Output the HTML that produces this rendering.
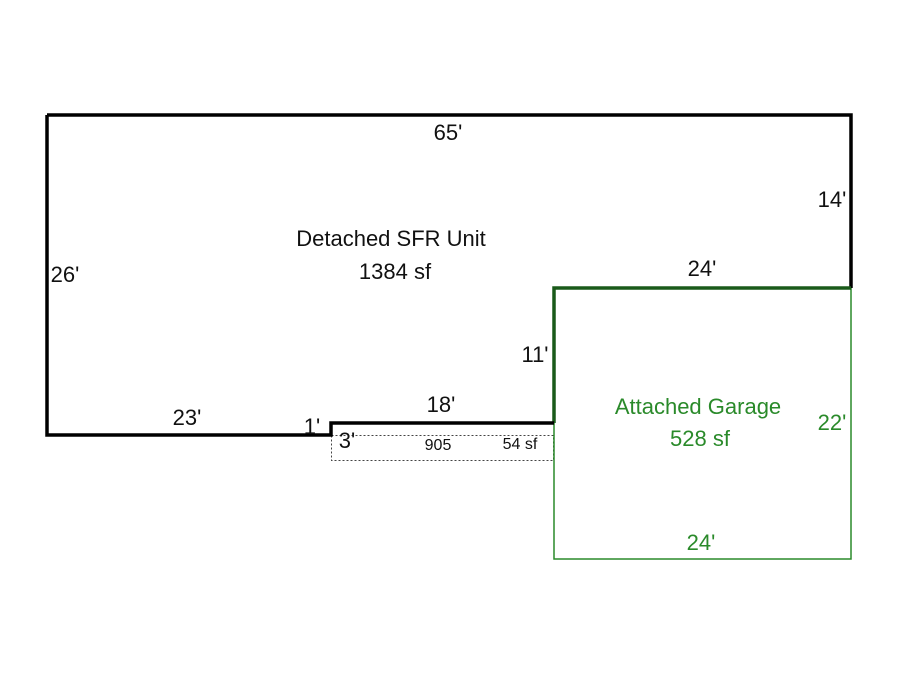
<!DOCTYPE html>
<html><head><style>html,body{margin:0;padding:0;background:#fff;}svg{display:block}text{font-family:"Liberation Sans",sans-serif}</style></head>
<body>
<svg width="900" height="675" viewBox="0 0 900 675" xmlns="http://www.w3.org/2000/svg" font-family="'Liberation Sans', sans-serif">
<rect width="900" height="675" fill="#fff"/>
<rect x="331.5" y="435.5" width="222" height="25" fill="none" stroke="#444" stroke-width="1" stroke-dasharray="2,2"/>
<rect x="554" y="288" width="297" height="271" fill="none" stroke="#2a8a2a" stroke-width="1.5"/>
<polyline points="47,115 851,115 851,288" fill="none" stroke="#000" stroke-width="3.5"/>
<polyline points="851,288 554,288 554,423" fill="none" stroke="#1a5a1a" stroke-width="3.5"/>
<polyline points="554,423 331,423 331,435 47,435 47,115" fill="none" stroke="#000" stroke-width="3.5"/>
<g font-size="22" fill="#111">
<text x="448" y="140" text-anchor="middle">65'</text>
<text x="832" y="207" text-anchor="middle">14'</text>
<text x="702" y="276" text-anchor="middle">24'</text>
<text x="65" y="282" text-anchor="middle">26'</text>
<text x="391" y="246" text-anchor="middle">Detached SFR Unit</text>
<text x="395" y="279" text-anchor="middle">1384 sf</text>
<text x="535" y="362" text-anchor="middle">11'</text>
<text x="187" y="425" text-anchor="middle">23'</text>
<text x="441" y="412" text-anchor="middle">18'</text>
<text x="312" y="434" text-anchor="middle">1'</text>
<text x="347" y="448" text-anchor="middle">3'</text>
</g>
<g font-size="16" fill="#111">
<text x="438" y="450" text-anchor="middle">905</text>
<text x="520" y="449" text-anchor="middle">54 sf</text>
</g>
<g font-size="22" fill="#2a8a2a">
<text x="698" y="414" text-anchor="middle">Attached Garage</text>
<text x="700" y="446" text-anchor="middle">528 sf</text>
<text x="832" y="430" text-anchor="middle">22'</text>
<text x="701" y="550" text-anchor="middle">24'</text>
</g>
</svg>
</body></html>
